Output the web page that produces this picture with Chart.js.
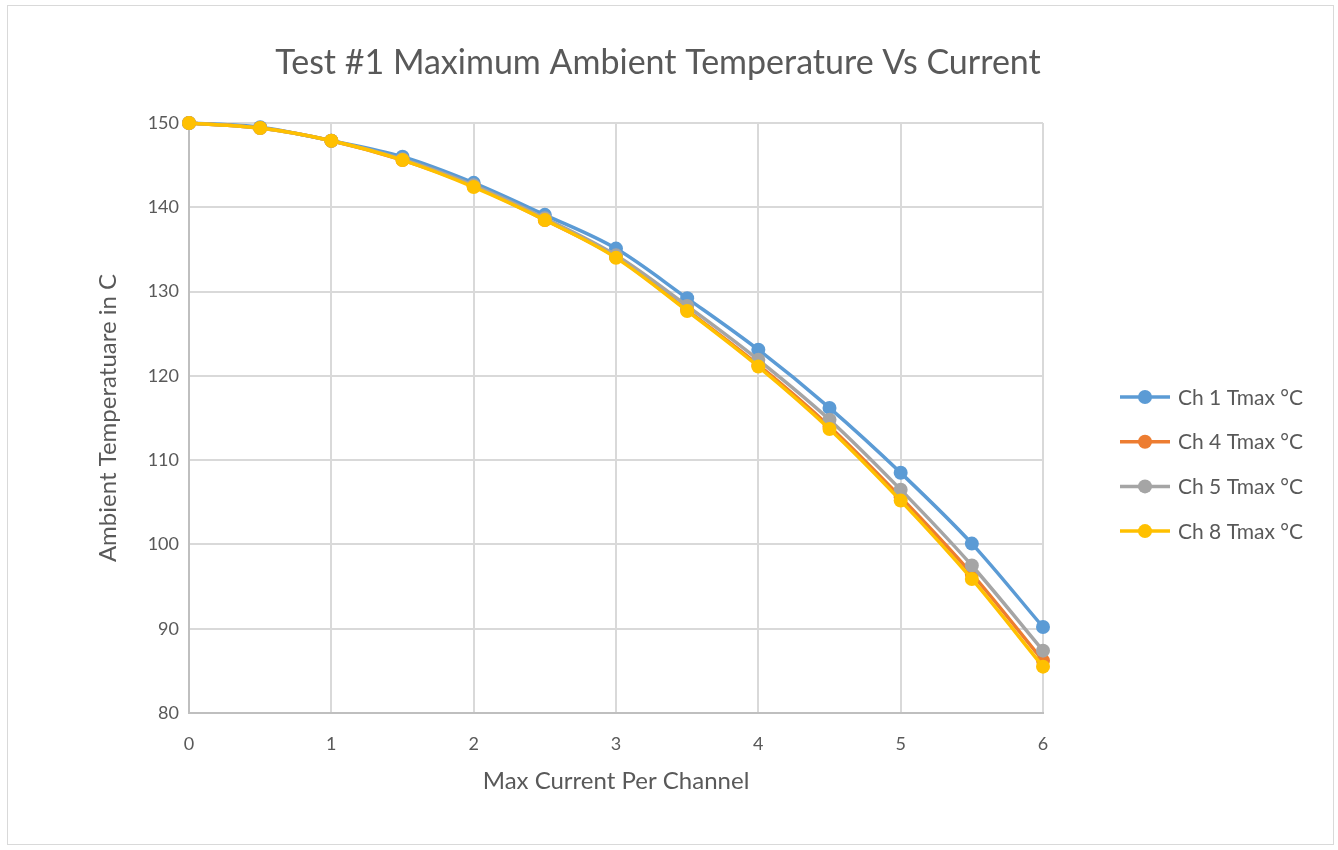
<!DOCTYPE html>
<html>
<head>
<meta charset="utf-8">
<script src="https://cdn.jsdelivr.net/npm/chart.js@4.4.1/dist/chart.umd.min.js"></script>
<style>
  html, body { margin: 0; padding: 0; background: #fff; }
  #wrap { position: relative; width: 1338px; height: 850px; }
  #frame { position: absolute; left: 7px; top: 5px; width: 1327px; height: 840px; border: 1px solid #D9D9D9; box-sizing: border-box; pointer-events: none; }
  canvas { display: block; }
</style>
</head>
<body>
<div id="wrap">
  <canvas id="tempChart" width="1338" height="850"></canvas>
  <div id="frame"></div>
</div>
<script>
const currents = [0, 0.5, 1, 1.5, 2, 2.5, 3, 3.5, 4, 4.5, 5, 5.5, 6];
const ch1 = [150, 149.5, 147.9, 146.0, 142.9, 139.1, 135.1, 129.2, 123.1, 116.2, 108.5, 100.1, 90.2];
const ch4 = [150, 149.4, 147.9, 145.6, 142.5, 138.5, 134.1, 127.8, 121.3, 114.0, 105.6, 96.5, 86.2];
const ch5 = [150, 149.4, 147.9, 145.7, 142.6, 138.7, 134.3, 128.3, 121.9, 114.8, 106.5, 97.5, 87.4];
const ch8 = [150, 149.4, 147.9, 145.6, 142.4, 138.5, 134.0, 127.7, 121.1, 113.7, 105.2, 95.9, 85.5];
const seriesNames = ['Ch 1 Tmax °C', 'Ch 4 Tmax °C', 'Ch 5 Tmax °C', 'Ch 8 Tmax °C'];
const seriesColors = ['#5B9BD5', '#ED7D31', '#A5A5A5', '#FFC000'];
const chartTitle = 'Test #1 Maximum Ambient Temperature Vs Current';

const FONT = 'Lato, "Open Sans", sans-serif';
const TEXT = '#595959';

function toPoints(vals) {
    return vals.map((v, i) => ({ x: currents[i], y: v }));
}

const allSeries = [ch1, ch4, ch5, ch8];
const datasets = allSeries.map((vals, i) => ({
    label: seriesNames[i],
    data: toPoints(vals),
    borderColor: seriesColors[i],
    backgroundColor: seriesColors[i],
    borderWidth: 3.5,
    pointRadius: 7,
    pointHoverRadius: 7,
    pointBorderWidth: 0,
    tension: 0.4,
    cubicInterpolationMode: 'monotone',
    clip: false,
    order: allSeries.length - i   // later series drawn on top, like Excel
}));

// title centred on the whole picture + legend on the right (line with a dot, like Excel)
const extras = {
    id: 'extras',
    afterDraw(chart) {
        const ctx = chart.ctx;
        ctx.save();
        ctx.fillStyle = TEXT;
        ctx.font = '34px ' + FONT;
        ctx.textAlign = 'center';
        ctx.textBaseline = 'middle';
        ctx.fillText(chartTitle, 658, 63);

        const x0 = 1120, startY = 397, gap = 44.7;
        ctx.font = '21px ' + FONT;
        ctx.textAlign = 'left';
        chart.data.datasets.forEach((ds, i) => {
            const y = startY + i * gap;
            ctx.strokeStyle = ds.borderColor;
            ctx.lineWidth = 3.5;
            ctx.beginPath(); ctx.moveTo(x0, y); ctx.lineTo(x0 + 50, y); ctx.stroke();
            ctx.fillStyle = ds.borderColor;
            ctx.beginPath(); ctx.arc(x0 + 25, y, 7, 0, Math.PI * 2); ctx.fill();
            ctx.fillStyle = TEXT;
            ctx.fillText(ds.label, x0 + 58, y + 1);
        });
        ctx.restore();
    }
};

new Chart(document.getElementById('tempChart'), {
    type: 'line',
    data: { datasets: datasets },
    options: {
        responsive: false,
        animation: false,
        layout: { padding: { left: 90, right: 295, top: 123, bottom: 50 } },
        plugins: {
            legend: { display: false },
            tooltip: { enabled: false },
            title: { display: false }
        },
        scales: {
            x: {
                type: 'linear',
                min: 0, max: 6,
                ticks: { stepSize: 1, color: TEXT, font: { family: FONT, size: 18 }, padding: 20 },
                grid: { color: '#D9D9D9', lineWidth: 2, drawTicks: false },
                border: { color: '#BFBFBF', width: 2 },
                title: { display: true, text: 'Max Current Per Channel', color: TEXT, font: { family: FONT, size: 24 } },
                afterFit(scale) { scale.height = 87; }
            },
            y: {
                min: 80, max: 150,
                ticks: { stepSize: 10, color: TEXT, font: { family: FONT, size: 18 }, padding: 10 },
                grid: { color: '#D9D9D9', lineWidth: 2, drawTicks: false },
                border: { color: '#BFBFBF', width: 2 },
                title: { display: true, text: 'Ambient Temperatuare in C', color: TEXT, font: { family: FONT, size: 24 } },
                afterFit(scale) { scale.width = 99; }
            }
        }
    },
    plugins: [extras]
});
</script>
</body>
</html>
